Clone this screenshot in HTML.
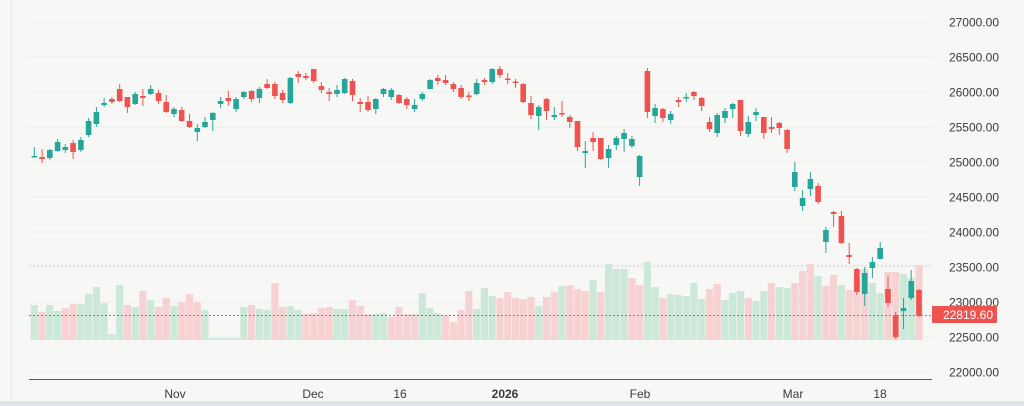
<!DOCTYPE html>
<html><head><meta charset="utf-8"><style>
html,body{margin:0;padding:0;background:#f7f8f6;}
body{width:1024px;height:406px;overflow:hidden;position:relative;font-family:"Liberation Sans",sans-serif;}
svg{position:absolute;left:0;top:0;}
</style></head><body>
<svg id="s" width="1024" height="406" xmlns="http://www.w3.org/2000/svg"></svg>
<script>
var C=[[156,157,147,157,'g'],[157,159,149,163,'r'],[150,158,149,160,'g'],[142,151,139,152,'g'],[147,150,144,153,'g'],[143,152,140,159,'r'],[140,150,137,152,'g'],[121,135,118,137,'g'],[112,124,107,127,'g'],[103,105,98,107,'g'],[99,102,97,104,'r'],[89,101,84,102,'r'],[97,107,97,113,'r'],[94,104,92,105,'g'],[96,98,89,106,'r'],[89,94,85,95,'g'],[93,101,90,104,'r'],[102,112,95,113,'r'],[109,114,107,117,'g'],[110,121,107,122,'r'],[121,127,114,128,'r'],[128,132,124,141,'g'],[122,127,117,128,'g'],[113,120,112,131,'g'],[101,104,97,108,'g'],[98,101,91,106,'r'],[99,109,97,112,'g'],[92,97,91,99,'g'],[91,99,90,102,'r'],[89,98,87,103,'g'],[84,88,79,89,'r'],[84,96,82,99,'r'],[93,100,90,103,'r'],[78,103,77,104,'g'],[74,77,71,83,'r'],[76,78,73,80,'r'],[69,81,69,83,'r'],[86,90,82,93,'r'],[92,94,88,101,'r'],[90,94,85,97,'g'],[79,93,78,94,'g'],[81,95,79,101,'r'],[102,104,98,112,'r'],[102,110,96,112,'r'],[99,109,98,114,'g'],[89,94,88,97,'g'],[90,97,88,100,'g'],[95,103,94,104,'r'],[99,105,97,109,'r'],[105,109,99,112,'g'],[94,99,92,101,'g'],[80,89,79,89,'g'],[78,81,75,85,'r'],[80,83,75,85,'r'],[84,89,82,92,'r'],[88,97,85,99,'r'],[95.5,96.5,92,101,'r'],[83,94,79,95,'g'],[80,82,78,85,'r'],[69,82,68,84,'g'],[69,75,66,78,'r'],[78.5,79.5,73,84,'r'],[81.5,82.5,79,88,'r'],[84,102,83,103,'r'],[103,115,96,119,'r'],[107,116,105,130,'g'],[99,111,98,120,'r'],[115,117,107,120,'g'],[113,114,101,117,'r'],[117,122,115,128,'r'],[121,147,121,151,'r'],[151,153,141,168,'g'],[138,142,132,151,'r'],[138,159,138,160,'r'],[149,158,145,168,'g'],[138,145,136,150,'g'],[133,139,129,152,'g'],[139,146,136,148,'g'],[156,177,155,186,'g'],[71,112,68,118,'r'],[108,116,104,123,'g'],[109,118,108,122,'r'],[114,120,111,124,'g'],[100,102,97,107,'r'],[97,98,93,102,'g'],[92,96,91,100,'r'],[98,106,97,111,'r'],[122,129,117,132,'r'],[115,133,113,137,'g'],[111,118,108,123,'g'],[104,109,103,118,'g'],[100,131,100,136,'r'],[122,134,116,137,'g'],[112,115,108,121,'g'],[117,133,117,139,'r'],[127,129,117,133,'r'],[123,128,122,135,'r'],[130,149,129,153,'r'],[172,187,162,191,'g'],[198,206,190,211,'g'],[179,189,172,196,'g'],[186,202,183,204,'r'],[230,242,227,253,'g'],[212,214,211,227,'r'],[216,243,211,244,'r'],[255,257,243,264,'r'],[269,292,268,295,'r'],[273,294,267,306,'g'],[262,268,257,278,'g'],[248,259,242,259,'g'],[289,303,276,307,'r'],[315,337,312,339,'r'],[308,311,298,329,'g'],[281,298,270,300,'g'],[290,316,289,317,'r']];
var V=[[305,'g'],[312,'r'],[305,'g'],[311,'g'],[308,'r'],[304,'r'],[304,'g'],[294,'g'],[287,'g'],[303,'g'],[334,'g'],[285,'g'],[305,'r'],[307,'g'],[291,'r'],[300,'g'],[307,'r'],[298,'r'],[306,'g'],[302,'r'],[294,'r'],[302,'r'],[310,'g'],[338,'g'],[338,'g'],[338,'g'],[338,'g'],[307,'g'],[305,'r'],[309,'g'],[310,'g'],[283,'r'],[307,'r'],[306,'g'],[310,'g'],[314,'r'],[313,'r'],[308,'r'],[307,'r'],[309,'g'],[309,'g'],[300,'r'],[306,'r'],[314,'r'],[314,'g'],[313,'g'],[317,'r'],[307,'r'],[314,'r'],[314,'r'],[293,'g'],[308,'g'],[313,'g'],[315,'r'],[322,'r'],[310,'r'],[291,'r'],[309,'g'],[288,'g'],[296,'g'],[298,'r'],[292,'r'],[298,'r'],[299,'r'],[297,'r'],[306,'g'],[297,'r'],[292,'r'],[286,'g'],[285,'r'],[289,'r'],[291,'r'],[280,'g'],[292,'r'],[264,'g'],[269,'g'],[269,'g'],[278,'r'],[285,'r'],[262,'g'],[287,'g'],[298,'r'],[294,'g'],[295,'g'],[296,'g'],[283,'g'],[299,'g'],[289,'r'],[284,'r'],[300,'g'],[293,'g'],[291,'g'],[298,'r'],[301,'g'],[291,'g'],[283,'r'],[287,'g'],[288,'g'],[283,'r'],[271,'r'],[264,'r'],[276,'g'],[286,'r'],[275,'r'],[285,'g'],[290,'r'],[278,'r'],[269,'r'],[283,'g'],[293,'g'],[272,'r'],[272,'r'],[274,'g'],[278,'g'],[265,'r']];
var h='';
// grid
for(var k=0;k<11;k++){var y=22+35*k;h+='<line x1="29" x2="932" y1="'+y+'" y2="'+y+'" stroke="#eceeeb" stroke-width="1"/>';
var p=(27000-500*k).toFixed(2);h+='<text x="999" y="'+(y+4.5)+'" text-anchor="end" font-size="12" fill="#3a3a3a">'+p+'</text>';}
h+='<line x1="11.5" x2="11.5" y1="0" y2="400" stroke="#e6e8e5"/>';
h+='<line x1="29" x2="932" y1="265.5" y2="265.5" stroke="#f3c9c9" stroke-dasharray="2,2"/>';
var sp=(919-34.3)/114;
for(var i=0;i<V.length;i++){var x=34.3+i*sp;h+='<rect x="'+(x-3.6).toFixed(1)+'" y="'+V[i][0]+'" width="7.2" height="'+(340-V[i][0])+'" fill="'+(V[i][1]=='g'?'#cce8d8':'#f6d2d2')+'"/>';}
for(var i=0;i<C.length;i++){var c=C[i],x=34.3+i*sp,col=c[4]=='g'?'#26a69a':'#ef5350';
h+='<line x1="'+x.toFixed(1)+'" x2="'+x.toFixed(1)+'" y1="'+c[2]+'" y2="'+c[3]+'" stroke="'+col+'" stroke-width="1"/>';
h+='<rect x="'+(x-2.8).toFixed(1)+'" y="'+c[0]+'" width="5.6" height="'+Math.max(1.5,c[1]-c[0])+'" fill="'+col+'"/>';}
h+='<line x1="29" x2="932" y1="315.5" y2="315.5" stroke="#ef5350" stroke-dasharray="2,2"/>';
h+='<rect x="932" y="306" width="65" height="17" rx="1" fill="#ef5350"/><text x="993" y="319" text-anchor="end" font-size="12" fill="#fff">22819.60</text>';
h+='<line x1="29" x2="932" y1="379.5" y2="379.5" stroke="#555"/>';
var L=[['Nov',175],['Dec',313],['16',400],['2026',505],['Feb',640],['Mar',793],['18',880]];
for(var j=0;j<L.length;j++)h+='<text x="'+L[j][1]+'" y="398" text-anchor="middle" font-size="12" fill="#3a3a3a"'+(L[j][0]=='2026'?' font-weight="bold"':'')+'>'+L[j][0]+'</text>';
h+='<rect x="0" y="401" width="1024" height="5" fill="#dfe4ea"/>';
document.getElementById('s').innerHTML=h;
</script>
</body></html>
